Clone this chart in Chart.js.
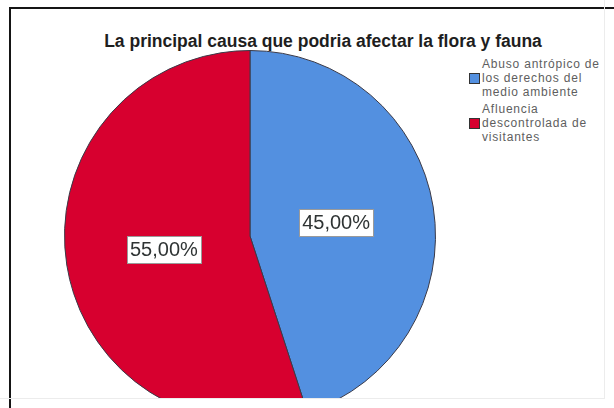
<!DOCTYPE html>
<html lang="es">
<head>
<meta charset="utf-8">
<title>La principal causa que podria afectar la flora y fauna</title>
<script src="https://cdn.jsdelivr.net/npm/chart.js@4"></script>
<style>
    html, body {
        margin: 0;
        padding: 0;
        background: #ffffff;
        width: 614px;
        height: 408px;
        overflow: hidden;
        font-family: "Liberation Sans", Arial, sans-serif;
    }
    /* outer frame: only top and left edges are visible */
    .frame {
        position: absolute;
        left: 9px;
        top: 7px;
        width: 620px;
        height: 420px;
        border-left: 2px solid #151515;
        border-top: 2px solid #151515;
    }
    .viewport {
        position: absolute;
        left: 0;
        top: 0;
        width: 604px;
        height: 398px;
        overflow: hidden;
        border-right: 1px solid #ececec;
        border-bottom: 1px solid #ececec;
    }
    .chart-title {
        position: absolute;
        left: 0;
        width: 646px;
        top: 31px;
        text-align: center;
        font-weight: bold;
        font-size: 17.5px;
        color: #1e1e1e;
        white-space: nowrap;
    }
    #pieCanvas {
        position: absolute;
        left: 64px;
        top: 50px;
    }
    .legend {
        position: absolute;
        left: 469px;
        top: 57px;
    }
    .legend-item {
        display: flex;
        align-items: center;
        margin-bottom: 3px;
    }
    .legend-swatch {
        width: 9px;
        height: 9px;
        border: 1px solid #333;
        margin-right: 2px;
        flex: none;
    }
    .legend-text {
        width: 124px;
        font-size: 12px;
        line-height: 14px;
        letter-spacing: 0.8px;
        color: #5e5e5e;
    }
</style>
</head>
<body>
<div class="frame"></div>
<div class="viewport">
    <div class="chart-title">La principal causa que podria afectar la flora y fauna</div>
    <canvas id="pieCanvas" width="372" height="372"></canvas>
    <div class="legend" id="pieLegend"></div>
</div>

<script>
// Pie data
const categories = [
    'Abuso antrópico de los derechos del medio ambiente',
    'Afluencia descontrolada de visitantes'
];
const percentages = [45, 55];

// Slice styling
const sliceColors = ['#5390e0', '#d7002f'];
const sliceBorder = '#3a3a48';

// Percent text in Spanish format, e.g. 45,00%
function formatPercent(value) {
    return value.toFixed(2).replace('.', ',') + '%';
}

// Draws a boxed value label inside each slice
const sliceLabels = {
    id: 'sliceLabels',
    afterDatasetsDraw(chart) {
        const ctx = chart.ctx;
        const meta = chart.getDatasetMeta(0);
        const values = chart.data.datasets[0].data;

        ctx.save();
        ctx.font = '20px "Liberation Sans", Arial, sans-serif';
        ctx.textAlign = 'center';
        ctx.textBaseline = 'middle';

        meta.data.forEach((arc, i) => {
            const p = arc.getProps(['x', 'y', 'startAngle', 'endAngle', 'outerRadius'], true);
            const mid = (p.startAngle + p.endAngle) / 2;
            const dist = p.outerRadius * 0.47;
            const x = p.x + Math.cos(mid) * dist;
            const y = p.y + Math.sin(mid) * dist;

            const text = formatPercent(values[i]);
            const w = ctx.measureText(text).width + 6;
            const h = 27;

            ctx.fillStyle = '#ffffff';
            ctx.fillRect(Math.round(x - w / 2), Math.round(y - h / 2), Math.round(w), h);
            ctx.strokeStyle = '#9a9a9a';
            ctx.lineWidth = 1;
            ctx.strokeRect(Math.round(x - w / 2) + 0.5, Math.round(y - h / 2) + 0.5, Math.round(w), h);

            ctx.fillStyle = '#2f3434';
            ctx.fillText(text, x, y + 1);
        });
        ctx.restore();
    }
};

const pieChart = new Chart(document.getElementById('pieCanvas'), {
    type: 'pie',
    data: {
        labels: categories,
        datasets: [{
            data: percentages,
            backgroundColor: sliceColors,
            borderColor: sliceBorder,
            borderWidth: 1
        }]
    },
    options: {
        responsive: false,
        devicePixelRatio: 1,
        animation: false,
        layout: { padding: 0 },
        plugins: {
            legend: { display: false },
            title: { display: false },
            tooltip: { enabled: false }
        }
    },
    plugins: [sliceLabels]
});

// Legend built from the same categories and colours
const legendEl = document.getElementById('pieLegend');
categories.forEach((name, i) => {
    const item = document.createElement('div');
    item.className = 'legend-item';

    const swatch = document.createElement('span');
    swatch.className = 'legend-swatch';
    swatch.style.background = sliceColors[i];

    const label = document.createElement('span');
    label.className = 'legend-text';
    label.textContent = name;

    item.appendChild(swatch);
    item.appendChild(label);
    legendEl.appendChild(item);
});
</script>
</body>
</html>
